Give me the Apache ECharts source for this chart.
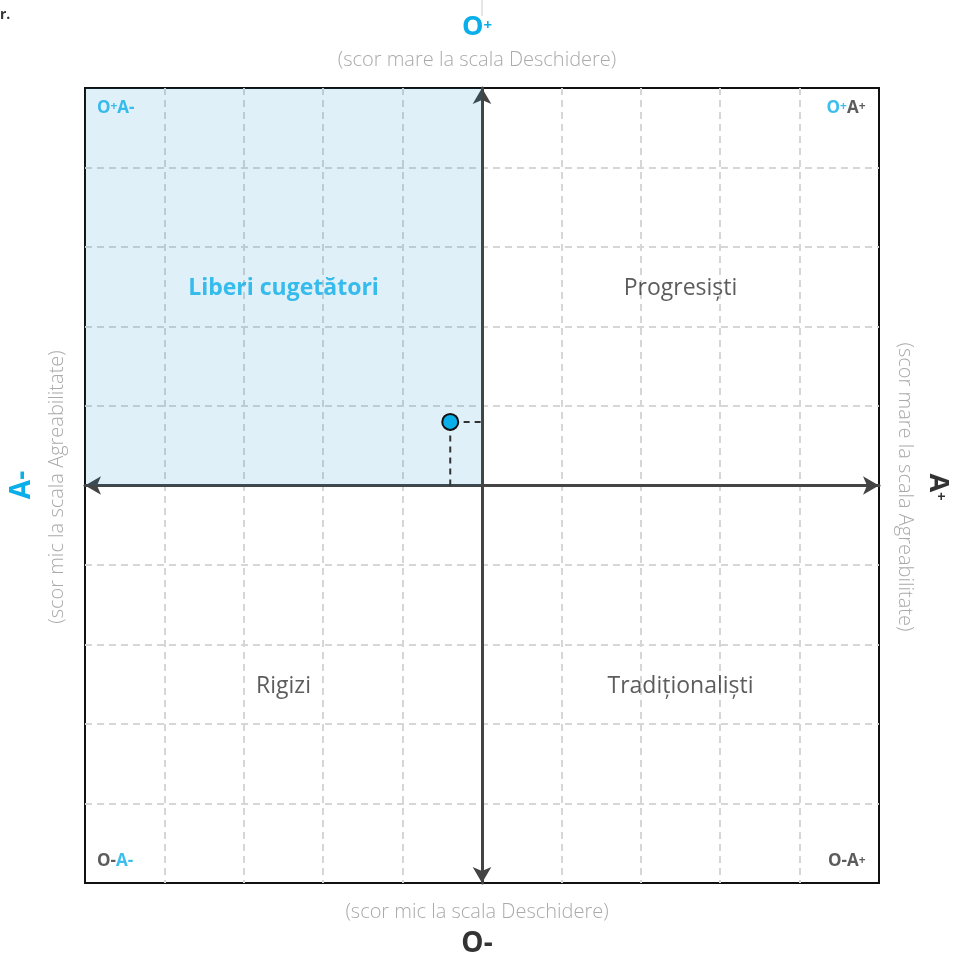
<!DOCTYPE html>
<html>
<head>
<meta charset="utf-8">
<script src="https://cdn.jsdelivr.net/npm/echarts@6/dist/echarts.min.js"></script>
<style>
  html, body { margin: 0; padding: 0; background: #fff; }
  #chart { width: 954px; height: 961px; }
</style>
</head>
<body>
<div id="chart"></div>
<script>
// scale -5..5 on both axes
var axisMin = -5;
var axisMax = 5;

// result point: [Agreabilitate, Deschidere]
var scorePoint = [-0.4, 0.8];

// quadrant names: top-left, top-right, bottom-left, bottom-right
var quadrantNames = ["Liberi cugetători", "Progresiști", "Rigizi", "Tradiționaliști"];
var highlightedQuadrant = 0;

// corner codes
var cornerCodes = ["O+A-", "O+A+", "O-A-", "O-A+"];

var blue = "#0aaee8";
var dark = "#333";
var grey = "#aaa";
var font = "'Open Sans', Lato, sans-serif";

var chart = echarts.init(document.getElementById("chart"));

// rich text pieces for the corner codes
function codeRich(code) {
  var oBlue = code.charAt(1) === "+";
  var o = oBlue ? "{b|O}{bs|+}" : "{d|O-}";
  var a = code.charAt(3) === "+" ? "{d|A}{ds|+}" : "{b|A-}";
  return o + a;
}

var cornerRich = {
  b: { color: blue, fontSize: 17, fontWeight: "bold", fontFamily: font },
  bs: { color: blue, fontSize: 12, fontWeight: "bold", fontFamily: font, padding: [0, 0, 2, 0] },
  d: { color: dark, fontSize: 17, fontWeight: "bold", fontFamily: font },
  ds: { color: dark, fontSize: 12, fontWeight: "bold", fontFamily: font, padding: [0, 0, 2, 0] }
};

var half = (axisMax - axisMin) / 4;
var quadrantCenters = [
  [-half, half], [half, half], [-half, -half], [half, -half]
];
var quadData = quadrantNames.map(function (n, i) {
  return {
    value: quadrantCenters[i],
    label: {
      formatter: n,
      color: i === highlightedQuadrant ? blue : dark,
      fontWeight: i === highlightedQuadrant ? "bold" : "normal"
    }
  };
});

var cornerData = cornerCodes.map(function (c, i) {
  var left = i % 2 === 0;
  var top = i < 2;
  return {
    value: [left ? axisMin + 0.15 : axisMax - 0.17, top ? axisMax - 0.25 : axisMin + 0.27],
    label: { formatter: codeRich(c), position: left ? "right" : "left", distance: 0 }
  };
});

var guide = [
  [scorePoint[0], 0],
  [scorePoint[0], scorePoint[1]],
  [0, scorePoint[1]]
];

var splitStyle = {
  showMinLine: false,
  showMaxLine: false,
  lineStyle: { type: [7, 5], color: "#d6d6d6", width: 2 }
};

var option = {
  backgroundColor: "#fff",
  animation: false,
  grid: {
    left: 85, right: 75, top: 88, bottom: 78,
    show: true, borderColor: "#111", borderWidth: 2
  },
  xAxis: {
    type: "value", min: axisMin, max: axisMax, interval: 1,
    axisLabel: { show: false }, axisTick: { show: false },
    splitLine: splitStyle,
    axisLine: {
      onZero: true, symbol: ["arrow", "arrow"], symbolSize: [14, 16],
      lineStyle: { color: "#444", width: 3 }
    }
  },
  yAxis: {
    type: "value", min: axisMin, max: axisMax, interval: 1,
    axisLabel: { show: false }, axisTick: { show: false },
    splitLine: splitStyle,
    axisLine: {
      onZero: true, symbol: ["arrow", "arrow"], symbolSize: [14, 16],
      lineStyle: { color: "#444", width: 3 }
    }
  },
  graphic: [
    { type: "line", shape: { x1: 482, y1: 0, x2: 482, y2: 16 }, style: { stroke: "#ccc", lineWidth: 1 } },
    { type: "text", left: 0, top: 8, style: { text: "r.", fill: dark, font: "bold 14px " + font } },
    {
      type: "text", left: "center", top: 14,
      style: {
        text: "{o|O}{p|+}",
        rich: {
          o: { fill: blue, fontSize: 27, fontWeight: "bold", fontFamily: font },
          p: { fill: blue, fontSize: 15, fontWeight: "bold", fontFamily: font, padding: [0, 0, 4, 0] }
        }
      }
    },
    { type: "text", left: "center", top: 50, style: { text: "(scor mare la scala Deschidere)", fill: grey, font: "300 20px " + font } },
    { type: "text", left: "center", top: 902, style: { text: "(scor mic la scala Deschidere)", fill: grey, font: "300 20px " + font } },
    { type: "text", left: "center", top: 930, style: { text: "O-", fill: dark, font: "bold 28px " + font } },
    {
      type: "text", x: 22, y: 485, rotation: Math.PI / 2,
      style: { text: "A-", fill: blue, font: "bold 28px " + font, align: "center", verticalAlign: "middle" }
    },
    {
      type: "text", x: 57, y: 487, rotation: Math.PI / 2,
      style: { text: "(scor mic la scala Agreabilitate)", fill: grey, font: "300 20px " + font, align: "center", verticalAlign: "middle" }
    },
    {
      type: "text", x: 905, y: 487, rotation: -Math.PI / 2,
      style: { text: "(scor mare la scala Agreabilitate)", fill: grey, font: "300 20px " + font, align: "center", verticalAlign: "middle" }
    },
    {
      type: "text", x: 938, y: 487, rotation: -Math.PI / 2,
      style: {
        text: "{o|A}{p|+}", align: "center", verticalAlign: "middle",
        rich: {
          o: { fill: dark, fontSize: 27, fontWeight: "bold", fontFamily: font },
          p: { fill: dark, fontSize: 15, fontWeight: "bold", fontFamily: font, padding: [0, 0, 4, 0] }
        }
      }
    }
  ],
  series: [
    {
      type: "line",
      data: guide,
      symbol: "none",
      z: 3,
      lineStyle: { color: "#333", width: 2, type: [6, 5] },
      markArea: {
        silent: true,
        itemStyle: { color: "rgba(0,132,197,0.12)" },
        data: [[{ coord: [axisMin, 0] }, { coord: [0, axisMax] }]]
      }
    },
    {
      type: "scatter",
      data: [scorePoint],
      symbolSize: 16,
      z: 5,
      itemStyle: { color: blue, borderColor: "#111", borderWidth: 2, opacity: 1 }
    },
    {
      type: "scatter",
      data: quadData,
      symbolSize: 0,
      silent: true,
      label: { show: true, position: "inside", fontSize: 23, fontFamily: font, offset: [0, 2] }
    },
    {
      type: "scatter",
      data: cornerData,
      symbolSize: 0,
      silent: true,
      label: { show: true, rich: cornerRich }
    }
  ]
};

chart.setOption(option);
</script>
</body>
</html>
